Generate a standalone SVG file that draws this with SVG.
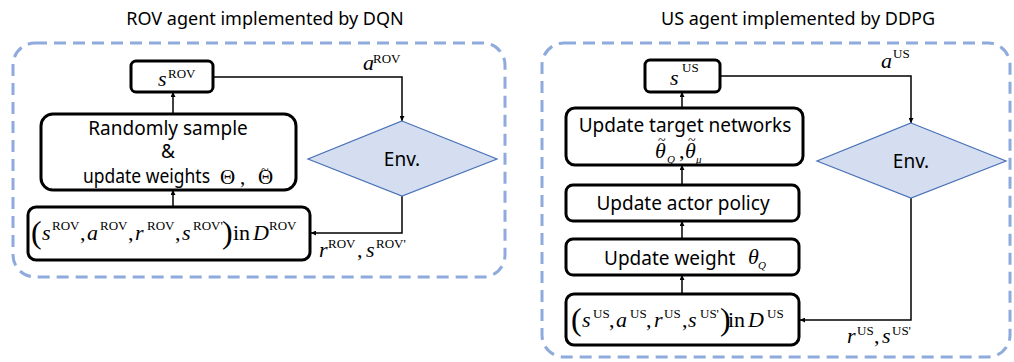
<svg xmlns="http://www.w3.org/2000/svg" width="1014" height="362" viewBox="0 0 1014 362">
<style>
.title{font-family:"Noto Sans","Open Sans",sans-serif;font-size:18px;fill:#000}
.lbl{font-family:"Noto Sans","Open Sans",sans-serif;font-size:19px;fill:#000}
.m{font-family:"Liberation Serif",serif;font-size:22px;font-style:italic;fill:#000}
.g{font-family:"Liberation Serif",serif;font-size:21px;fill:#000}
.tl{font-size:14px;font-style:normal}
.up{font-style:normal}
.sup{font-family:"Liberation Serif",serif;font-size:13px;font-style:normal}
.box{fill:#fff;stroke:#000;stroke-width:3}
.grp{fill:none;stroke:#8FAADC;stroke-width:3;stroke-dasharray:12 7}
.dia{fill:#D4DEF0;stroke:#4A72B8;stroke-width:1.2}
.con{fill:none;stroke:#000;stroke-width:1.5}
</style>
<defs>
<marker id="ah" viewBox="0 0 10 10" refX="10" refY="5" markerWidth="5" markerHeight="5" orient="auto" markerUnits="userSpaceOnUse">
<path d="M0,0 L10,5 L0,10 z" fill="#000"/>
</marker>
</defs>
<rect fill="#fff" x="0" y="0" width="1014" height="362"/>
<text class="title" x="265" y="25" text-anchor="middle">ROV agent implemented by DQN</text>
<text class="title" x="798" y="25" text-anchor="middle">US agent implemented by DDPG</text>
<rect class="grp" x="13" y="43" width="492" height="234" rx="22"/>
<rect class="grp" x="542" y="43" width="468" height="314" rx="22"/>

<g id="connectors">
<path class="con" d="M173,207 V190" marker-end="url(#ah)"/>
<path class="con" d="M173,114 V92" marker-end="url(#ah)"/>
<path class="con" d="M213,77 H402 V121" marker-end="url(#ah)"/>
<path class="con" d="M402,196 V233 H311" marker-end="url(#ah)"/>
<path class="con" d="M682,294 V275" marker-end="url(#ah)"/>
<path class="con" d="M682,239 V221" marker-end="url(#ah)"/>
<path class="con" d="M682,185 V165" marker-end="url(#ah)"/>
<path class="con" d="M682,108 V92" marker-end="url(#ah)"/>
<path class="con" d="M720,76 H911 V123" marker-end="url(#ah)"/>
<path class="con" d="M911,198 V320 H800" marker-end="url(#ah)"/>
<text class="m" x="363" y="70">a<tspan class="sup" x="373" y="63">ROV</tspan></text>
<text class="m" x="319" y="257">r<tspan class="sup" x="328" y="248">ROV</tspan><tspan class="up" x="357" y="257">,</tspan><tspan x="366" y="257">s</tspan><tspan class="sup" x="376" y="248">ROV'</tspan></text>
<text class="m" x="881" y="68">a<tspan class="sup" x="893" y="58">US</tspan></text>
<text class="m" x="847" y="343">r<tspan class="sup" x="857" y="335">US</tspan><tspan class="up" x="874" y="343">,</tspan><tspan x="882" y="343">s</tspan><tspan class="sup" x="892" y="335">US'</tspan></text>
</g>

<g id="rov-state">
<rect class="box" x="131" y="61" width="82" height="31" rx="5"/>
<text class="m" x="158" y="86">s<tspan class="sup" x="168" y="78">ROV</tspan></text>
</g>
<g id="rov-update">
<rect class="box" x="41" y="114" width="255" height="76" rx="12"/>
<text class="lbl" x="168" y="135" text-anchor="middle">Randomly sample</text>
<text class="lbl" x="168" y="158" text-anchor="middle">&amp;</text>
<text class="lbl" x="83" y="183" textLength="127" lengthAdjust="spacingAndGlyphs">update weights</text>
<text class="g" x="220" y="184">Θ<tspan x="240">,</tspan><tspan x="258">Θ</tspan><tspan class="tl" x="261" y="175">~</tspan></text>
</g>
<g id="rov-memory">
<rect class="box" x="28" y="207" width="282" height="53" rx="8"/>
<text class="m" y="240"><tspan class="up" x="31" font-size="32" y="243">(</tspan><tspan x="42" y="240">s</tspan><tspan class="sup" x="52" y="230">ROV</tspan><tspan class="up" x="80" y="240">,</tspan><tspan x="87" y="240">a</tspan><tspan class="sup" x="100" y="230">ROV</tspan><tspan class="up" x="128" y="240">,</tspan><tspan x="135" y="240">r</tspan><tspan class="sup" x="147" y="230">ROV</tspan><tspan class="up" x="175" y="240">,</tspan><tspan x="182" y="240">s</tspan><tspan class="sup" x="193" y="230">ROV'</tspan><tspan class="up" x="222" font-size="32" y="243">)</tspan><tspan class="up" x="233" y="240">in</tspan><tspan x="253" y="240">D</tspan><tspan class="sup" x="269" y="230">ROV</tspan></text>
</g>
<g id="rov-env">
<polygon class="dia" points="402,121 497,159 402,196 308,159"/>
<text class="lbl" x="402" y="166" text-anchor="middle">Env.</text>
</g>

<g id="us-state">
<rect class="box" x="645" y="60" width="75" height="32" rx="5"/>
<text class="m" x="670" y="85">s<tspan class="sup" x="682" y="72">US</tspan></text>
</g>
<g id="us-target">
<rect class="box" x="566" y="108" width="237" height="57" rx="9"/>
<text class="lbl" x="685" y="132" text-anchor="middle">Update target networks</text>
<text class="m" x="655" y="158">θ<tspan font-size="11" x="667" y="163">Q</tspan><tspan class="up" x="679" y="158">,</tspan><tspan x="685" y="158">θ</tspan><tspan font-size="11" x="696" y="163">μ</tspan><tspan class="tl" x="658" y="145">~</tspan><tspan class="tl" x="688" y="145">~</tspan></text>
</g>
<g id="us-actor">
<rect class="box" x="566" y="185" width="233" height="36" rx="7"/>
<text class="lbl" x="683" y="210" text-anchor="middle">Update actor policy</text>
</g>
<g id="us-weight">
<rect class="box" x="566" y="239" width="233" height="36" rx="7"/>
<text class="lbl" x="604" y="265">Update weight</text>
<text class="m" x="748" y="264">θ<tspan font-size="11" x="758" y="269">Q</tspan></text>
</g>
<g id="us-memory">
<rect class="box" x="566" y="294" width="233" height="51" rx="8"/>
<text class="m" y="327"><tspan class="up" x="571" font-size="32" y="330">(</tspan><tspan x="582" y="327">s</tspan><tspan class="sup" x="593" y="318">US</tspan><tspan class="up" x="609" y="327">,</tspan><tspan x="616" y="327">a</tspan><tspan class="sup" x="630" y="318">US</tspan><tspan class="up" x="646" y="327">,</tspan><tspan x="654" y="327">r</tspan><tspan class="sup" x="664" y="318">US</tspan><tspan class="up" x="682" y="327">,</tspan><tspan x="688" y="327">s</tspan><tspan class="sup" x="700" y="318">US'</tspan><tspan class="up" x="720" font-size="32" y="330">)</tspan><tspan class="up" x="728" y="327">in</tspan><tspan x="748" y="327">D</tspan><tspan class="sup" x="767" y="318">US</tspan></text>
</g>
<g id="us-env">
<polygon class="dia" points="911,123 1006,161 911,198 817,161"/>
<text class="lbl" x="911" y="168" text-anchor="middle">Env.</text>
</g>
</svg>
